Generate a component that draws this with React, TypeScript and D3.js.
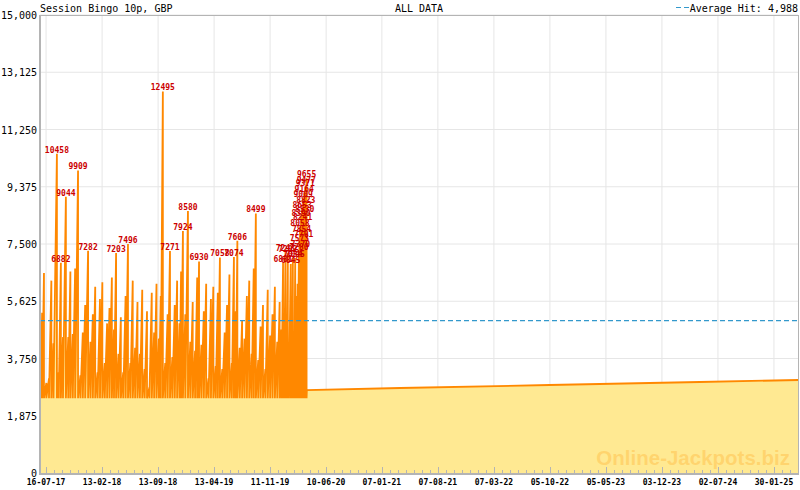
import * as d3 from "d3";

const W = 800;
const H = 490;
const M = { left: 40, right: 2, top: 15, bottom: 17 };

const title = "Session Bingo 10p, GBP";
const subtitle = "ALL DATA";
const averageHit = 4988;
const resetValue = 2450;
const labelThreshold = 6800;
const domainDates = ["2017-06-23", "2025-05-01"];

const xTickLabels = [
  "16-07-17", "13-02-18", "13-09-18", "13-04-19", "11-11-19", "10-06-20", "07-01-21",
  "07-08-21", "07-03-22", "05-10-22", "05-05-23", "03-12-23", "02-07-24", "30-01-25",
];
const yTicks = [0, 1875, 3750, 5625, 7500, 9375, 11250, 13125, 15000];

// date of each jackpot hit and the amount won
const hitDates = [
  // 2017
  "2017-06-25", "2017-07-01", "2017-07-08", "2017-07-17", "2017-07-27", "2017-08-05", "2017-08-13",
  "2017-08-26", "2017-09-02", "2017-09-10", "2017-09-18", "2017-09-29", "2017-10-08", "2017-10-16",
  "2017-10-25", "2017-11-03", "2017-11-14", "2017-11-23", "2017-12-02", "2017-12-11", "2017-12-22",
  "2017-12-31",
  // 2018
  "2018-01-09", "2018-01-18", "2018-01-27", "2018-02-05", "2018-02-14", "2018-02-23", "2018-03-04",
  "2018-03-13", "2018-03-22", "2018-03-30", "2018-04-07", "2018-04-16", "2018-04-25", "2018-05-04",
  "2018-05-13", "2018-05-22", "2018-05-31", "2018-06-09", "2018-06-18", "2018-06-27", "2018-07-06",
  "2018-07-15", "2018-07-24", "2018-08-02", "2018-08-11", "2018-08-20", "2018-08-29", "2018-09-07",
  "2018-09-16", "2018-09-23", "2018-10-01", "2018-10-10", "2018-10-19", "2018-10-28", "2018-11-06",
  "2018-11-15", "2018-11-24", "2018-12-03", "2018-12-09", "2018-12-16", "2018-12-25",
  // 2019
  "2019-01-04", "2019-01-13", "2019-01-22", "2019-01-31", "2019-02-08", "2019-02-15", "2019-02-24",
  "2019-03-05", "2019-03-14", "2019-03-23", "2019-04-01", "2019-04-10", "2019-04-19", "2019-04-27",
  "2019-05-05", "2019-05-14", "2019-05-23", "2019-06-01", "2019-06-10", "2019-06-19", "2019-06-27",
  "2019-07-04", "2019-07-10", "2019-07-19", "2019-07-28", "2019-08-06", "2019-08-15", "2019-08-24",
  "2019-09-02", "2019-09-10", "2019-09-18", "2019-09-27", "2019-10-06", "2019-10-15", "2019-10-24",
  "2019-11-02", "2019-11-11", "2019-11-20", "2019-11-29", "2019-12-08", "2019-12-17", "2019-12-24",
  "2019-12-30",
  // 2020
  "2020-01-03", "2020-01-08", "2020-01-12", "2020-01-17", "2020-01-21", "2020-01-28", "2020-02-01",
  "2020-02-05", "2020-02-10", "2020-02-14", "2020-02-19", "2020-02-23", "2020-02-28", "2020-03-01",
  "2020-03-03", "2020-03-05", "2020-03-07", "2020-03-09", "2020-03-11", "2020-03-13", "2020-03-15",
  "2020-03-17", "2020-03-19", "2020-03-21", "2020-03-23", "2020-03-25", "2020-03-27", "2020-03-28",
];
const hitValues = [
  // 2017
  3450, 5250, 6550, 2950, 3100, 6300, 4250,
  10458, 3300, 6882, 4450, 9044, 4450, 6600,
  4550, 6700, 9909, 3200, 4600, 5500, 7282,
  4300,
  // 2018
  5200, 6100, 3300, 5700, 6250, 3600, 4900,
  5400, 6400, 4700, 7203, 3900, 5100, 3300,
  5800, 7496, 3600, 6300, 4100, 5600, 3900,
  6000, 3400, 5300, 2800, 5900, 4600, 6200,
  4400, 5800, 12495, 3600, 5200, 7271, 3800,
  5500, 6300, 4900, 6600, 7924, 5200,
  // 2019
  8580, 4300, 5600, 4000, 6400, 6930, 4200,
  5300, 6200, 3100, 5700, 6100, 3500, 5900,
  7058, 3400, 4600, 5500, 6500, 3600, 7074,
  5300, 7606, 4100, 5000, 4400, 5800, 6300,
  3900, 6700, 8499, 3700, 4800, 5500, 3400,
  6000, 4500, 5200, 6100, 4300, 5600, 4700,
  6881,
  // 2020
  4200, 7243, 5100, 7202, 3900, 6845, 5400,
  7034, 4600, 7045, 5800, 6200, 7280, 7573,
  8058, 7370, 8390, 7854, 8653, 8241, 9009,
  7701, 9164, 8530, 9371, 8823, 9477, 9655,
];

// jackpot level after the last recorded hit
const tailDates = ["2020-03-29", "2021-03-17", "2022-10-03", "2024-04-24", "2025-05-01"];
const tailValues = [2718, 2784, 2882, 2980, 3046];

const mono = "'DejaVu Sans Mono', monospace";

export default function App() {
  const parse = d3.timeParse("%Y-%m-%d");
  const parseTick = d3.timeParse("%d-%m-%y");

  const x = d3
    .scaleTime()
    .domain(domainDates.map((d) => parse(d) as Date))
    .range([M.left, W - M.right]);
  const y = d3.scaleLinear().domain([0, 15000]).range([H - M.bottom, M.top]);

  type Pt = { d: Date; v: number };
  const pts: Pt[] = [{ d: parse(domainDates[0]) as Date, v: resetValue }];
  hitDates.forEach((s, i) => {
    const d = parse(s) as Date;
    pts.push({ d, v: hitValues[i] });
    pts.push({ d, v: resetValue });
  });
  tailDates.forEach((s, i) => pts.push({ d: parse(s) as Date, v: tailValues[i] }));

  const area = d3
    .area<Pt>()
    .x((p) => x(p.d))
    .y0(y(0))
    .y1((p) => y(p.v));
  const line = d3
    .line<Pt>()
    .x((p) => x(p.d))
    .y((p) => y(p.v));

  const majors = xTickLabels.map((s) => parseTick(s) as Date);
  const step = (majors[1].getTime() - majors[0].getTime()) / 7;
  const minors: number[] = [];
  for (let t = majors[0].getTime(); t <= x.domain()[1].getTime(); t += step) minors.push(t);

  const x0 = M.left;
  const x1 = W - M.right;
  const yb = H - M.bottom;
  const fmt = d3.format(",");

  const labelled = hitDates
    .map((s, i) => ({ d: parse(s) as Date, v: hitValues[i] }))
    .filter((h) => h.v >= labelThreshold);

  return (
    <svg
      width={W}
      height={H}
      viewBox={`0 0 ${W} ${H}`}
      style={{ position: "absolute", left: 0, top: 0, background: "#fff" }}
    >
      {/* grid */}
      {yTicks.map((t) => (
        <line key={"gy" + t} x1={x0} x2={x1} y1={y(t)} y2={y(t)} stroke="#e6e6e6" />
      ))}
      {majors.map((d, i) => (
        <line key={"gx" + i} x1={x(d)} x2={x(d)} y1={M.top} y2={yb} stroke="#e6e6e6" />
      ))}

      {/* jackpot level */}
      <path d={area(pts) ?? ""} fill="#ffe992" />
      <text
        x={790}
        y={465}
        textAnchor="end"
        fontFamily="'Liberation Sans', Arial, sans-serif"
        fontWeight="bold"
        fontSize={20.5}
        fill="#ffbf4a"
        fillOpacity={0.5}
      >
        Online-Jackpots.biz
      </text>
      <path d={line(pts) ?? ""} fill="none" stroke="#ff8800" strokeWidth={1.8} strokeLinejoin="miter" />

      {/* average hit */}
      <line
        x1={x0}
        x2={x1}
        y1={y(averageHit)}
        y2={y(averageHit)}
        stroke="#3399cc"
        strokeWidth={1.2}
        strokeDasharray="5,3"
      />

      {/* frame */}
      <line x1={x0} x2={x1} y1={M.top + 0.5} y2={M.top + 0.5} stroke="#b4b4b4" />
      <line x1={x1 + 0.5} x2={x1 + 0.5} y1={M.top} y2={yb} stroke="#b4b4b4" />
      <line x1={x0} x2={x0} y1={M.top} y2={yb + 2} stroke="#b4b4b4" strokeWidth={2} />
      <line x1={x0} x2={x1 + 1} y1={yb + 1} y2={yb + 1} stroke="#b4b4b4" strokeWidth={2} />

      {/* x ticks */}
      {minors.map((t, i) => (
        <line
          key={"mt" + i}
          x1={Math.round(x(new Date(t))) + 0.5}
          x2={Math.round(x(new Date(t))) + 0.5}
          y1={yb}
          y2={yb - (i % 7 === 0 ? 6 : 3)}
          stroke="#b4b4b4"
        />
      ))}
      {majors.map((d, i) => (
        <text
          key={"xl" + i}
          x={x(d)}
          y={485}
          textAnchor="middle"
          fontFamily={mono}
          fontSize={8}
          fontWeight="bold"
          fill="#000"
        >
          {xTickLabels[i]}
        </text>
      ))}

      {/* y labels */}
      {yTicks.map((t) => (
        <text
          key={"yl" + t}
          x={37}
          y={y(t) + 4}
          textAnchor="end"
          fontFamily={mono}
          fontSize={10}
          fill="#000"
        >
          {fmt(t)}
        </text>
      ))}

      {/* hit labels */}
      {labelled.map((h, i) => (
        <text
          key={"hl" + i}
          x={x(h.d)}
          y={y(h.v) - 1}
          textAnchor="middle"
          fontFamily={mono}
          fontSize={8}
          fontWeight="bold"
          fill="#cc0000"
        >
          {h.v}
        </text>
      ))}

      {/* header */}
      <text x={40} y={12} fontFamily={mono} fontSize={10} fill="#000">
        {title}
      </text>
      <text x={419} y={12} textAnchor="middle" fontFamily={mono} fontSize={10} fill="#000">
        {subtitle}
      </text>
      <line x1={676} x2={690} y1={7.5} y2={7.5} stroke="#3399cc" strokeWidth={1.2} strokeDasharray="5,3" />
      <text x={798} y={12} textAnchor="end" fontFamily={mono} fontSize={10} fill="#000">
        {"Average Hit: " + fmt(averageHit)}
      </text>
    </svg>
  );
}
